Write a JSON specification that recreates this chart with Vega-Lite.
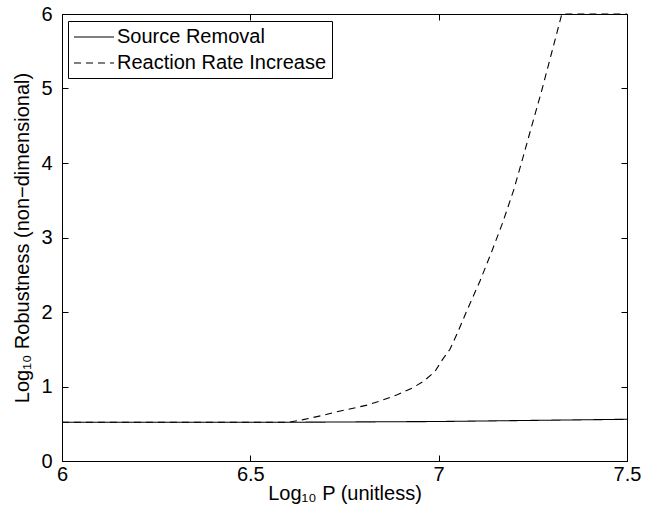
{
  "$schema": "https://vega.github.io/schema/vega-lite/v6.json",
  "autosize": "none",
  "width": 565,
  "height": 447,
  "padding": {"left": 62, "top": 14, "right": 23, "bottom": 45},
  "background": "white",
  "config": {
    "font": "Liberation Sans",
    "view": {"stroke": "black", "strokeWidth": 1},
    "axis": {
      "grid": false,
      "domainColor": "black",
      "tickColor": "black",
      "labelColor": "black",
      "titleColor": "black",
      "labelFont": "Liberation Sans",
      "titleFont": "Liberation Sans",
      "labelFontSize": 20,
      "titleFontSize": 20,
      "titleFontWeight": "normal",
      "tickSize": -6,
      "labelFlush": false,
      "labelOverlap": false
    }
  },
  "datasets": {
    "curves": [
      {"series": "Source Removal", "x": 6.0, "y": 0.52},
      {"series": "Source Removal", "x": 6.6, "y": 0.52},
      {"series": "Source Removal", "x": 7.0, "y": 0.53},
      {"series": "Source Removal", "x": 7.25, "y": 0.545},
      {"series": "Source Removal", "x": 7.5, "y": 0.56},
      {"series": "Reaction Rate Increase", "x": 6.0, "y": 0.52},
      {"series": "Reaction Rate Increase", "x": 6.6, "y": 0.52},
      {"series": "Reaction Rate Increase", "x": 6.64, "y": 0.555},
      {"series": "Reaction Rate Increase", "x": 6.69, "y": 0.61},
      {"series": "Reaction Rate Increase", "x": 6.73, "y": 0.66},
      {"series": "Reaction Rate Increase", "x": 6.77, "y": 0.705},
      {"series": "Reaction Rate Increase", "x": 6.81, "y": 0.75},
      {"series": "Reaction Rate Increase", "x": 6.85, "y": 0.815},
      {"series": "Reaction Rate Increase", "x": 6.89, "y": 0.89},
      {"series": "Reaction Rate Increase", "x": 6.93, "y": 0.98},
      {"series": "Reaction Rate Increase", "x": 6.96, "y": 1.07},
      {"series": "Reaction Rate Increase", "x": 6.99, "y": 1.2},
      {"series": "Reaction Rate Increase", "x": 7.01, "y": 1.36},
      {"series": "Reaction Rate Increase", "x": 7.03, "y": 1.5},
      {"series": "Reaction Rate Increase", "x": 7.05, "y": 1.72},
      {"series": "Reaction Rate Increase", "x": 7.075, "y": 2.02},
      {"series": "Reaction Rate Increase", "x": 7.11, "y": 2.42},
      {"series": "Reaction Rate Increase", "x": 7.14, "y": 2.8},
      {"series": "Reaction Rate Increase", "x": 7.17, "y": 3.2},
      {"series": "Reaction Rate Increase", "x": 7.2, "y": 3.65},
      {"series": "Reaction Rate Increase", "x": 7.223, "y": 4.06},
      {"series": "Reaction Rate Increase", "x": 7.25, "y": 4.55},
      {"series": "Reaction Rate Increase", "x": 7.274, "y": 4.98},
      {"series": "Reaction Rate Increase", "x": 7.3, "y": 5.48},
      {"series": "Reaction Rate Increase", "x": 7.327, "y": 6.0},
      {"series": "Reaction Rate Increase", "x": 7.5, "y": 6.0}
    ]
  },
  "data": {"name": "curves"},
  "layer": [
    {
      "mark": {"type": "line", "color": "black", "strokeWidth": 1.1, "clip": false},
      "encoding": {
        "x": {
          "field": "x", "type": "quantitative",
          "scale": {"domain": [6, 7.5], "nice": false, "zero": false},
          "axis": {"orient": "bottom", "values": [6, 6.5, 7, 7.5], "format": "~g", "title": "Log₁₀ P (unitless)", "titlePadding": -1, "labelPadding": 9}
        },
        "y": {
          "field": "y", "type": "quantitative",
          "scale": {"domain": [0, 6], "nice": false, "zero": false},
          "axis": {"orient": "left", "values": [0, 1, 2, 3, 4, 5, 6], "title": "Log₁₀ Robustness (non−dimensional)", "titlePadding": 8, "labelPadding": 16}
        },
        "strokeDash": {
          "field": "series", "type": "nominal",
          "scale": {"domain": ["Source Removal", "Reaction Rate Increase"], "range": [[1, 0], [7, 5]]},
          "legend": {
            "title": null,
            "orient": "none",
            "legendX": 6,
            "legendY": 7,
            "strokeColor": "black",
            "fillColor": "white",
            "padding": 5,
            "symbolType": "M-2,0H2",
            "symbolSize": 400,
            "symbolOffset": 10,
            "symbolStrokeColor": "black",
            "symbolStrokeWidth": 1.1,
            "labelFontSize": 20,
            "labelFont": "Liberation Sans",
            "labelColor": "black",
            "labelOffset": 12,
            "labelLimit": 0,
            "rowPadding": 5
          }
        }
      }
    },
    {
      "mark": {"type": "line", "opacity": 0},
      "encoding": {
        "x": {
          "field": "x", "type": "quantitative",
          "scale": {"domain": [6, 7.5], "nice": false, "zero": false},
          "axis": {"orient": "top", "values": [6, 6.5, 7, 7.5], "labels": false, "title": null}
        },
        "y": {
          "field": "y", "type": "quantitative",
          "scale": {"domain": [0, 6], "nice": false, "zero": false},
          "axis": {"orient": "right", "values": [0, 1, 2, 3, 4, 5, 6], "labels": false, "title": null}
        },
        "detail": {"field": "series"}
      }
    }
  ],
  "resolve": {"axis": {"x": "independent", "y": "independent"}}
}
